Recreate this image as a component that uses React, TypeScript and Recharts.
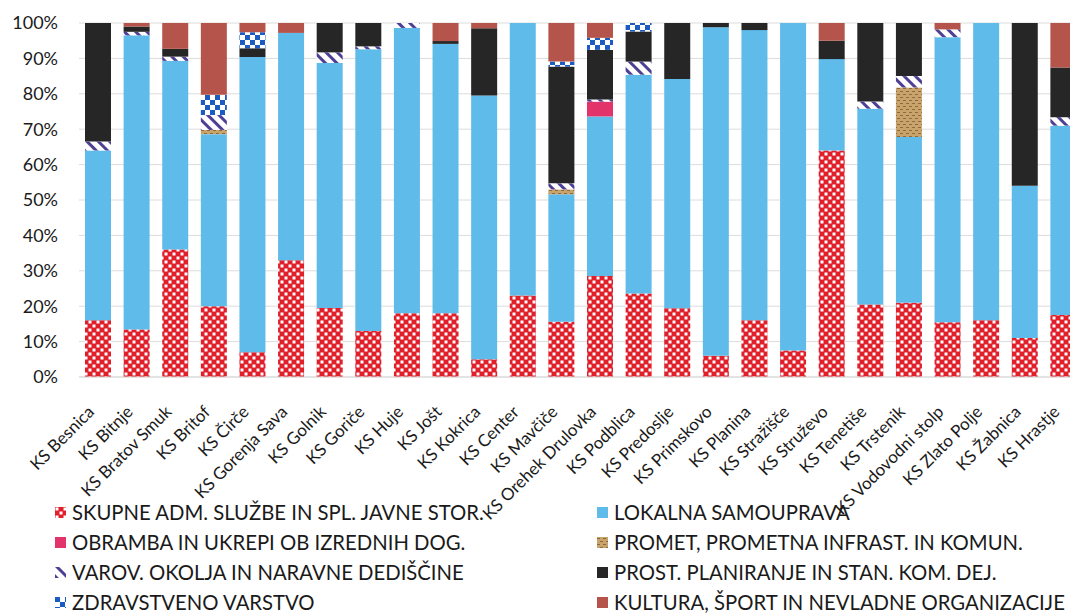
import React from 'react';
import { BarChart, Bar, XAxis, YAxis, CartesianGrid, Legend } from 'recharts';

const categories = [
  'KS Besnica', 'KS Bitnje', 'KS Bratov Smuk', 'KS Britof', 'KS Čirče', 'KS Gorenja Sava',
  'KS Golnik', 'KS Goriče', 'KS Huje', 'KS Jošt', 'KS Kokrica', 'KS Center', 'KS Mavčiče',
  'KS Orehek Drulovka', 'KS Podblica', 'KS Predoslje', 'KS Primskovo', 'KS Planina',
  'KS Stražišče', 'KS Struževo', 'KS Tenetiše', 'KS Trstenik', 'KS Vodovodni stolp',
  'KS Zlato Polje', 'KS Žabnica', 'KS Hrastje',
];

const skupne = [16, 13.5, 36, 20, 7, 33, 19.5, 13, 18, 18, 5, 23, 15.6, 28.5, 23.6, 19.4, 6, 16, 7.5, 64, 20.5, 21, 15.5, 16, 11, 17.5];
const lokalna = [48, 83.5, 53.3, 48.6, 83.4, 64.2, 69.2, 79.6, 80.6, 76.1, 74.5, 77, 36, 45.1, 61.8, 64.8, 92.8, 82, 92.5, 25.8, 55.3, 46.8, 80.5, 84, 43, 53.5];
const obramba = [0, 0, 0, 0, 0, 0, 0, 0, 0, 0, 0, 0, 0, 4.2, 0, 0, 0, 0, 0, 0, 0, 0, 0, 0, 0, 0];
const promet = [0, 0, 0, 1.2, 0, 0, 0, 0, 0, 0, 0, 0, 1.4, 0, 0, 0, 0, 0, 0, 0, 0, 14, 0, 0, 0, 0];
const varov = [2.5, 1, 1.2, 4.2, 0, 0, 3, 0.8, 1.4, 0, 0, 0, 1.7, 0.6, 3.7, 0, 0, 0, 0, 0, 2, 3.2, 2.2, 0, 0, 2.4];
const prost = [33.5, 1.5, 2.2, 0, 2.5, 0, 8.3, 6.6, 0, 0.8, 19, 0, 33, 14, 8.5, 15.8, 1.2, 2, 0, 5.2, 22.2, 15, 0, 0, 46, 14];
const zdrav = [0, 0, 0, 5.7, 4.5, 0, 0, 0, 0, 0, 0, 0, 1.4, 3.4, 2.4, 0, 0, 0, 0, 0, 0, 0, 0, 0, 0, 0];
const kultura = [0, 1, 7.3, 20.3, 2.6, 2.8, 0, 0, 0, 5.1, 1.5, 0, 10.9, 4.2, 0, 0, 0, 0, 0, 5, 0, 0, 1.8, 0, 0, 12.6];

const yTicks = [0, 0.1, 0.2, 0.3, 0.4, 0.5, 0.6, 0.7, 0.8, 0.9, 1];

const series = [
  { key: 'skupne', name: 'SKUPNE ADM. SLUŽBE IN SPL. JAVNE STOR.', fill: 'url(#pRed)' },
  { key: 'lokalna', name: 'LOKALNA SAMOUPRAVA', fill: '#5fbbea' },
  { key: 'obramba', name: 'OBRAMBA IN UKREPI OB IZREDNIH DOG.', fill: '#e2336b' },
  { key: 'promet', name: 'PROMET, PROMETNA INFRAST. IN KOMUN.', fill: 'url(#pTan)' },
  { key: 'varov', name: 'VAROV. OKOLJA IN NARAVNE DEDIŠČINE', fill: 'url(#pStripe)' },
  { key: 'prost', name: 'PROST. PLANIRANJE IN STAN. KOM. DEJ.', fill: '#262626' },
  { key: 'zdrav', name: 'ZDRAVSTVENO VARSTVO', fill: 'url(#pCheck)' },
  { key: 'kultura', name: 'KULTURA, ŠPORT IN NEVLADNE ORGANIZACIJE', fill: '#b5544b' },
];

const data = categories.map((name, i) => ({
  name,
  skupne: skupne[i],
  lokalna: lokalna[i],
  obramba: obramba[i],
  promet: promet[i],
  varov: varov[i],
  prost: prost[i],
  zdrav: zdrav[i],
  kultura: kultura[i],
}));

const FONT = 'Lato, "Open Sans", sans-serif';
const TEXT = '#1a1a1a';

const XTick = (props: any) => {
  const { x, y, payload } = props;
  return (
    <g transform={`translate(${x - 3},${y + 36})`}>
      <text textAnchor="end" transform="rotate(-45)" fontFamily={FONT} fontSize={17} fill={TEXT}>
        {payload.value}
      </text>
    </g>
  );
};

const legendRows = [
  [series[0], series[1]],
  [series[2], series[3]],
  [series[4], series[5]],
  [series[6], series[7]],
];

const LegendContent = () => (
  <div style={{ position: 'relative', width: 1083, height: 123, fontFamily: FONT, fontSize: 20.3, color: TEXT }}>
    {legendRows.map((row, r) =>
      row.map((s, c) => {
        const left = c === 0 ? 55 : 597;
        return (
          <div key={s.key} style={{ position: 'absolute', left, top: r * 30, height: 30, whiteSpace: 'nowrap' }}>
            <svg width={11} height={11} style={{ position: 'absolute', left: 0, top: 10 }}>
              <rect width={11} height={11} fill={s.fill} />
            </svg>
            <span style={{ position: 'absolute', left: 17, top: 0, lineHeight: '30px' }}>{s.name}</span>
          </div>
        );
      })
    )}
  </div>
);

export default function App() {
  return (
    <div style={{ position: 'fixed', left: 0, top: 0, width: 1070, height: 613, overflow: 'hidden', background: '#fff' }}>
      <BarChart
        width={1083}
        height={620}
        data={data}
        stackOffset="expand"
        margin={{ top: 23, right: 0, left: 0, bottom: 0 }}
        barSize={26}
      >
        <defs>
          <pattern id="pRed" width="8" height="8" patternUnits="userSpaceOnUse">
            <rect width="8" height="8" fill="#e01f2b" />
            <rect x="0.5" y="0.5" width="3" height="3" fill="#ffffff" />
            <rect x="4.5" y="4.5" width="3" height="3" fill="#ffffff" />
          </pattern>
          <pattern id="pTan" width="6" height="6" patternUnits="userSpaceOnUse">
            <rect width="6" height="6" fill="#c9a36c" />
            <rect x="0" y="1" width="3" height="1" fill="#8e6a3c" />
            <rect x="3" y="4" width="3" height="1" fill="#8e6a3c" />
          </pattern>
          <pattern id="pStripe" width="8" height="8" patternUnits="userSpaceOnUse" patternTransform="rotate(-45)">
            <rect width="8" height="8" fill="#ffffff" />
            <rect x="0" y="0" width="3" height="8" fill="#4e3f95" />
          </pattern>
          <pattern id="pCheck" width="10" height="10" patternUnits="userSpaceOnUse">
            <rect width="10" height="10" fill="#ffffff" />
            <rect x="0" y="0" width="5" height="5" fill="#1c5cc2" />
            <rect x="5" y="5" width="5" height="5" fill="#1c5cc2" />
          </pattern>
        </defs>
        <CartesianGrid vertical={false} stroke="#dcdcdc" />
        <XAxis
          dataKey="name"
          interval={0}
          height={120}
          tickLine={false}
          tickSize={0}
          tickMargin={0}
          axisLine={{ stroke: '#d9d9d9' }}
          tick={<XTick />}
        />
        <YAxis
          type="number"
          domain={[0, 1]}
          ticks={yTicks}
          width={79}
          axisLine={false}
          tickLine={false}
          tickSize={0}
          tickMargin={21}
          tickFormatter={(v: number) => `${Math.round(v * 100)}%`}
          tick={{ fontFamily: FONT, fontSize: 18, fill: TEXT }}
        />
        <Legend
          verticalAlign="bottom"
          content={<LegendContent />}
          wrapperStyle={{ left: 0, bottom: 0, width: 1083, height: 123 }}
        />
        {series.map((s) => (
          <Bar key={s.key} dataKey={s.key} name={s.name} stackId="a" fill={s.fill} isAnimationActive={false} />
        ))}
      </BarChart>
    </div>
  );
}
